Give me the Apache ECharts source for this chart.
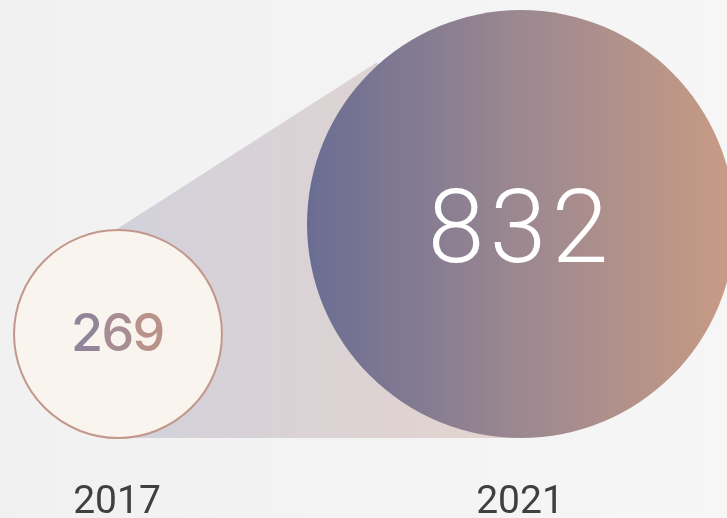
<!DOCTYPE html>
<html>
<head>
<meta charset="utf-8">
<script src="https://cdn.jsdelivr.net/npm/echarts@6/dist/echarts.min.js"></script>
<style>
  html, body { margin: 0; padding: 0; }
  #chart { width: 727px; height: 518px; }
</style>
</head>
<body>
<div id="chart"></div>
<script>
// Data
const years = ['2017', '2021'];
const counts = [269, 832];

// circle radius (px) from value
function radiusOf(v) {
  return 52.4 + 0.1954 * v;
}

var chartDom = document.getElementById('chart');
var myChart = echarts.init(chartDom);
var option;

const lg = (stops) => new echarts.graphic.LinearGradient(0, 0, 1, 0, stops);

// connector shape between the two circles
function renderConnector(params, api) {
  const p0 = api.coord([0, 0]);
  const p1 = api.coord([1, 0]);
  const r0 = radiusOf(counts[0]);
  const r1 = radiusOf(counts[1]);
  const c1 = [p1[0], p1[1] - r1];
  const edge = [c1[0] - 0.667 * r1, c1[1] - 0.751 * r1];
  return {
    type: 'polygon',
    shape: {
      points: [
        [p0[0], p0[1] - 2 * r0],
        edge,
        c1,
        [p1[0], p1[1] - 1],
        [p0[0], p0[1] - 1]
      ]
    },
    style: {
      fill: lg([
        { offset: 0, color: '#d2d1db' },
        { offset: 1, color: '#e4d4ce' }
      ])
    }
  };
}

// colours for the small number, left to right
const smallDigitColors = ['#928499', '#a68c93', '#b9938b'];

function renderCircle(params, api) {
  const i = params.dataIndex;
  const v = api.value(1);
  const p = api.coord([i, 0]);
  const r = radiusOf(v);
  const cx = p[0], cy = p[1] - r;
  const children = [];
  const digits = String(v).split('');
  if (i === 0) {
    children.push({
      type: 'circle',
      shape: { cx: cx + 1, cy: cy, r: r - 1 },
      style: { fill: '#f9f4ed', stroke: '#c3978b', lineWidth: 2 }
    });
    const step = 31;
    digits.forEach((d, k) => {
      children.push({
        type: 'text',
        x: cx + 1 + (k - (digits.length - 1) / 2) * step,
        y: cy + 1,
        style: {
          text: d,
          fontFamily: 'Inter',
          fontSize: 52,
          fontWeight: 500,
          align: 'center',
          verticalAlign: 'middle',
          fill: smallDigitColors[k % smallDigitColors.length]
        }
      });
    });
  } else {
    children.push({
      type: 'circle',
      shape: { cx: cx + 1, cy: cy, r: r - 1 },
      style: {
        fill: lg([
          { offset: 0, color: '#6a6d93' },
          { offset: 0.5, color: '#9c8890' },
          { offset: 1, color: '#c99b84' }
        ])
      }
    });
    // spaced digits
    const step = 62;
    digits.forEach((d, k) => {
      children.push({
        type: 'text',
        x: cx + (k - (digits.length - 1) / 2) * step - 2,
        y: cy + 12,
        style: {
          text: d,
          fontFamily: 'Roboto',
          fontSize: 102,
          fontWeight: 300,
          align: 'center',
          verticalAlign: 'middle',
          fill: '#ffffff'
        }
      });
    });
  }
  return { type: 'group', children: children };
}

option = {
  backgroundColor: lg([
    { offset: 0, color: '#f1f1f1' },
    { offset: 1, color: '#f6f6f6' }
  ]),
  animation: false,
  grid: { left: 117, right: 207, top: 0, bottom: 79, outerBoundsMode: 'none' },
  xAxis: {
    type: 'category',
    data: years,
    boundaryGap: false,
    axisLine: { show: false },
    axisTick: { show: false },
    splitLine: { show: false },
    axisLabel: {
      margin: 64,
      verticalAlign: 'middle',
      fontFamily: 'Roboto',
      fontSize: 39,
      color: '#404040'
    }
  },
  yAxis: { type: 'value', min: 0, max: 1, show: false },
  series: [
    {
      type: 'custom',
      z: 1,
      data: [[0, 0]],
      renderItem: renderConnector
    },
    {
      type: 'custom',
      z: 2,
      data: counts.map((c, i) => [i, c]),
      renderItem: renderCircle
    }
  ]
};

option && myChart.setOption(option);
</script>
</body>
</html>
